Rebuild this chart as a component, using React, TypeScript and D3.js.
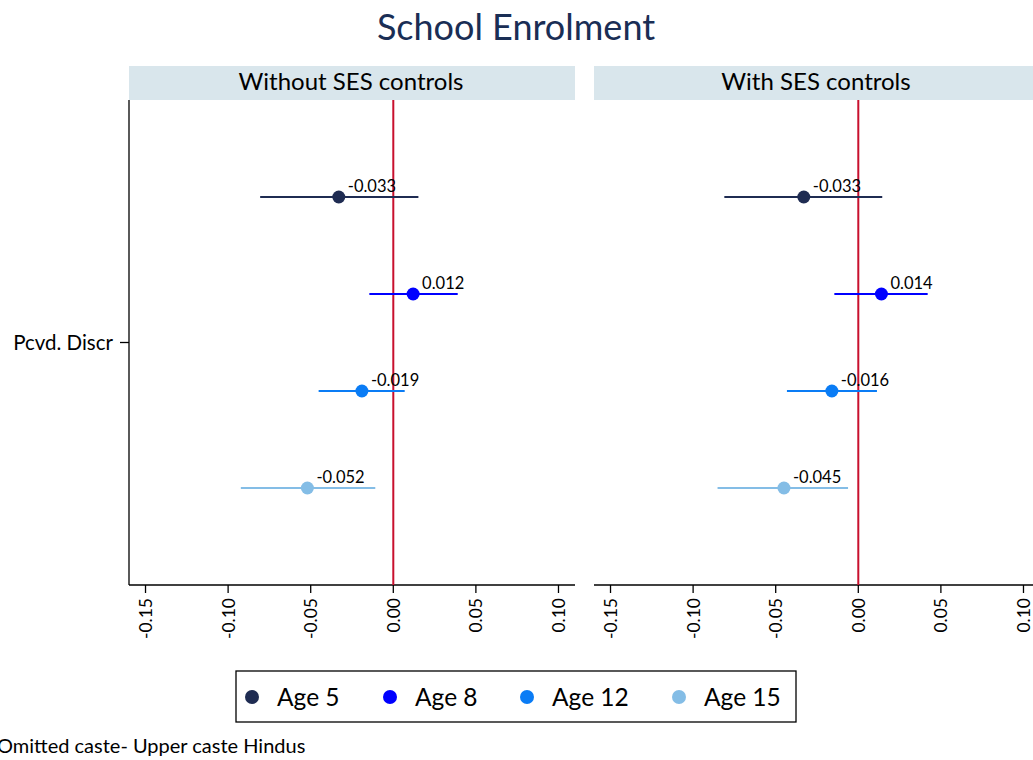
import React from "react";
import * as d3 from "d3";

const panels = ["Without SES controls", "With SES controls"];
const ages = ["Age 5", "Age 8", "Age 12", "Age 15"];
const colors = ["#1f2c52", "#0000ff", "#0a7cf5", "#84bde6"];
// estimates per panel, per age
const estimates = [
  [-0.033, 0.012, -0.019, -0.052],
  [-0.033, 0.014, -0.016, -0.045],
];
const ciLow = [
  [-0.0806, -0.0145, -0.0452, -0.0923],
  [-0.0811, -0.0145, -0.0432, -0.0852],
];
const ciHigh = [
  [0.0152, 0.039, 0.0069, -0.0109],
  [0.0145, 0.042, 0.0113, -0.0062],
];
const xTicks = [-0.15, -0.1, -0.05, 0.0, 0.05, 0.1];
const yCategory = "Pcvd. Discr";

const FONT = "Lato, 'Open Sans', sans-serif";

const hy = (s: string) => s.replace("\u2212", "-");

export default function App() {
  const W = 1033, H = 760;
  const panelLeft = [129, 594];
  const panelW = 446;
  const plotTop = 100, plotBottom = 585;
  const headerTop = 66;
  const y = d3.scaleBand<string>().domain(ages).range([plotTop, plotBottom]).paddingOuter(0.5).paddingInner(0);
  const fmt = d3.format(".3f");
  const tickFmt = d3.format(".2f");

  return (
    <svg width={W} height={H} style={{ position: "absolute", left: 0, top: 0, background: "#fff" }} fontFamily={FONT}>
      <rect width={W} height={H} fill="#fff" />
      <text x={516} y={40} textAnchor="middle" fontSize={36} fill="#1a2e55">School Enrolment</text>
      {panels.map((p, pi) => {
        const x = d3.scaleLinear().domain([-0.16, 0.11]).range([panelLeft[pi], panelLeft[pi] + panelW]);
        return (
          <g key={p}>
            <rect x={panelLeft[pi]} y={headerTop} width={panelW} height={plotTop - headerTop} fill="#d9e6ec" />
            <text x={panelLeft[pi] + panelW / 2 - 1} y={90} textAnchor="middle" fontSize={24} fill="#000">{p}</text>
            {pi === 0 && (
              <g>
                <line x1={panelLeft[0]} x2={panelLeft[0]} y1={plotTop} y2={plotBottom} stroke="#000" strokeWidth={1.3} />
                <line x1={panelLeft[0] - 9} x2={panelLeft[0]} y1={(plotTop + plotBottom) / 2} y2={(plotTop + plotBottom) / 2} stroke="#000" strokeWidth={1.3} />
                <text x={panelLeft[0] - 16} y={(plotTop + plotBottom) / 2 + 7} textAnchor="end" fontSize={20.5} fill="#000">{yCategory}</text>
              </g>
            )}
            <line x1={panelLeft[pi]} x2={panelLeft[pi] + panelW} y1={plotBottom} y2={plotBottom} stroke="#000" strokeWidth={1.3} />
            {xTicks.map((t) => (
              <g key={t} transform={`translate(${x(t)},${plotBottom})`}>
                <line y1={0} y2={8} stroke="#000" strokeWidth={1.3} />
                <text transform="translate(6.5,13) rotate(-90)" textAnchor="end" fontSize={17.5} fill="#000">{hy(tickFmt(t))}</text>
              </g>
            ))}
            <line x1={x(0)} x2={x(0)} y1={plotTop} y2={plotBottom} stroke="#c8102e" strokeWidth={2} />
            {ages.map((a, ai) => {
              const cy = (y(a) as number) + y.bandwidth() / 2;
              return (
                <g key={a}>
                  <line x1={x(ciLow[pi][ai])} x2={x(ciHigh[pi][ai])} y1={cy} y2={cy} stroke={colors[ai]} strokeWidth={2} />
                  <circle cx={x(estimates[pi][ai])} cy={cy} r={6.5} fill={colors[ai]} />
                  <text x={x(estimates[pi][ai]) + 9} y={cy - 5} fontSize={16.5} fill="#000">{hy(fmt(estimates[pi][ai]))}</text>
                </g>
              );
            })}
          </g>
        );
      })}
      <rect x={236} y={671} width={560} height={51} fill="#fff" stroke="#000" strokeWidth={1.3} />
      {ages.map((a, ai) => {
        const cx = [252, 390, 527, 679][ai];
        return (
          <g key={a}>
            <circle cx={cx} cy={697} r={7} fill={colors[ai]} />
            <text x={cx + 25} y={706} fontSize={24.5} fill="#000">{a}</text>
          </g>
        );
      })}
      <text x={-3} y={753} fontSize={20} fill="#000">Omitted caste- Upper caste Hindus</text>
    </svg>
  );
}
